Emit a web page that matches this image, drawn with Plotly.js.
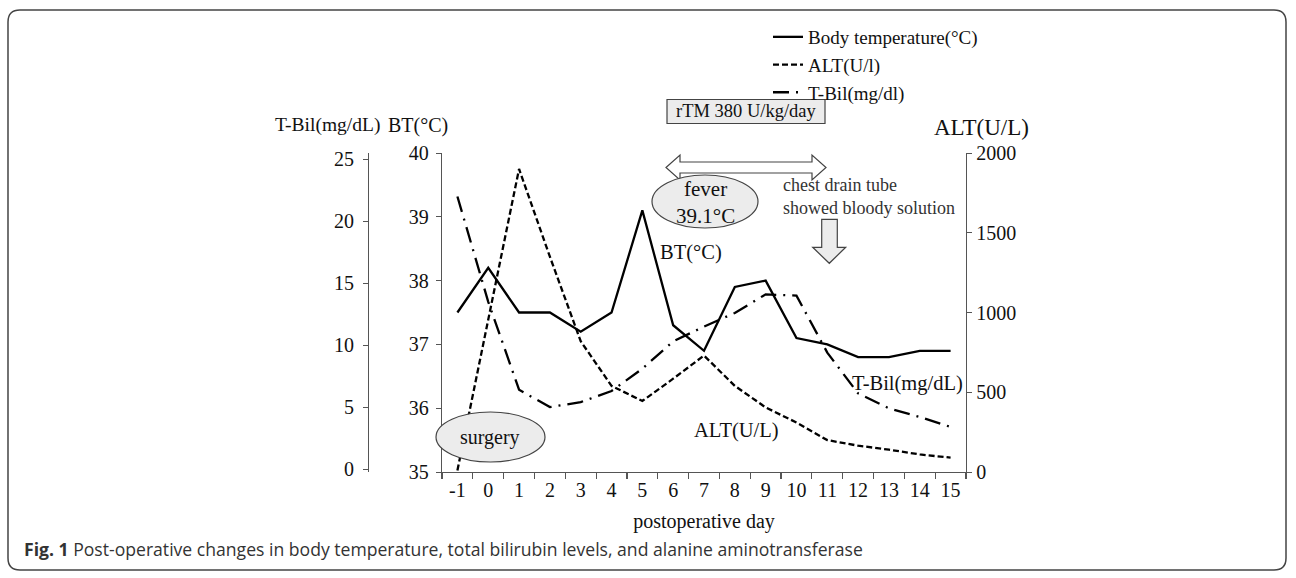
<!DOCTYPE html>
<html>
<head>
<meta charset="utf-8">
<script src="https://cdn.plot.ly/plotly-3.0.1.min.js"></script>
<style>
  html, body { margin: 0; padding: 0; background: #fff; }
  #chart { width: 1296px; height: 578px; }
</style>
</head>
<body>
<div id="chart"></div>
<script>
// ---- data ----
const days = [-1, 0, 1, 2, 3, 4, 5, 6, 7, 8, 9, 10, 11, 12, 13, 14, 15];
const bodyTemp = [37.5, 38.2, 37.5, 37.5, 37.2, 37.5, 39.1, 37.3, 36.9, 37.9, 38.0, 37.1, 37.0, 36.8, 36.8, 36.9, 36.9];
const alt = [10, 960, 1900, 1350, 820, 540, 445, 585, 730, 540, 405, 310, 200, 165, 140, 110, 90];
const tbil = [22.0, 13.5, 6.4, 5.0, 5.4, 6.3, 8.1, 10.3, 11.5, 12.6, 14.1, 14.0, 9.4, 6.1, 4.9, 4.2, 3.4];
const seriesNames = ['Body temperature(°C)', 'ALT(U/l)', 'T-Bil(mg/dl)'];
const btTicks = [35, 36, 37, 38, 39, 40];
const tbilTicks = [0, 5, 10, 15, 20, 25];
const altTicks = [0, 500, 1000, 1500, 2000];

// ---- layout geometry (pixels) ----
const FW = 1296, FH = 578;
const M = { l: 368, r: 330, t: 153, b: 106 };
const PW = FW - M.l - M.r, PH = FH - M.t - M.b;
const px = x => (x - M.l) / PW;
const py = y => (FH - M.b - y) / PH;
function path(s) {
  const toks = s.trim().split(/\s+/);
  let out = [], isX = true;
  for (const t of toks) {
    if (/^[A-Za-z]$/.test(t)) { out.push(t); isX = true; continue; }
    const v = parseFloat(t);
    out.push((isX ? px(v) : py(v)).toFixed(5));
    isX = !isX;
  }
  return out.join(' ').replace(/([A-Z]) /g, '$1').replace(/ (-?[0-9.]+) (-?[0-9.]+)/g, ' $1,$2');
}

const SERIF = 'Liberation Serif, Times New Roman, serif';
const AX = '#555';

const traces = [
  { x: days, y: bodyTemp, name: seriesNames[0], type: 'scatter', mode: 'lines', yaxis: 'y',
    line: { color: '#000', width: 2.3 } },
  { x: days, y: alt, name: seriesNames[1], type: 'scatter', mode: 'lines', yaxis: 'y3',
    line: { color: '#000', width: 2.3, dash: '6px,3px' } },
  { x: days, y: tbil, name: seriesNames[2], type: 'scatter', mode: 'lines', yaxis: 'y2',
    line: { color: '#000', width: 2.3, dash: '16px,7px,2px,7px' } }
];

function txt(text, x, y, size, opts) {
  return Object.assign({ text: text, xref: 'paper', yref: 'paper', x: px(x), y: py(y),
    xanchor: 'center', yanchor: 'middle', showarrow: false,
    font: { family: SERIF, size: size, color: '#111' } }, opts || {});
}

const annotations = [
  txt('T-Bil(mg/dL)', 327, 125, 19.5),
  txt('BT(°C)', 418, 125, 20),
  txt('ALT(U/L)', 981, 127, 23),
  txt('rTM 380 U/kg/day', 746, 111, 18.5),
  txt('fever<br>39.1°C', 705, 202, 21),
  txt('chest drain tube<br>showed bloody solution', 781, 196, 18, { xanchor: 'left', align: 'left', font: { family: SERIF, size: 18, color: '#333' } }),
  txt('BT(°C)', 691, 252, 20.5),
  txt('ALT(U/L)', 736, 430, 20.5),
  txt('T-Bil(mg/dL)', 907, 383, 20.5),
  txt('surgery', 490, 437, 20),
  { text: '<b>Fig. 1</b> Post-operative changes in body temperature, total bilirubin levels, and alanine aminotransferase',
    xref: 'paper', yref: 'paper', x: px(22), y: py(549), xanchor: 'left', yanchor: 'middle', showarrow: false,
    font: { family: 'Open Sans, sans-serif', size: 17.6, color: '#333' } }
];

const FILL = '#ececec', STROKE = '#444';
const shapes = [
  { type: 'path', xref: 'paper', yref: 'paper', layer: 'below',
    path: path('M 20 10 L 1274 10 Q 1286 10 1286 22 L 1286 558 Q 1286 570 1274 570 L 20 570 Q 8 570 8 558 L 8 22 Q 8 10 20 10 Z'),
    line: { color: '#444', width: 1.5 }, fillcolor: 'rgba(0,0,0,0)' },
  { type: 'rect', xref: 'paper', yref: 'paper', layer: 'above',
    x0: px(667), x1: px(825), y0: py(99.5), y1: py(123.5),
    line: { color: STROKE, width: 1.2 }, fillcolor: FILL },
  { type: 'path', xref: 'paper', yref: 'paper', layer: 'above',
    path: path('M 666 167.5 L 680 155 L 680 162 L 812 162 L 812 155 L 826 167.5 L 812 180 L 812 173 L 680 173 L 680 180 Z'),
    line: { color: STROKE, width: 1.2 }, fillcolor: '#fff' },
  { type: 'circle', xref: 'paper', yref: 'paper', layer: 'above',
    x0: px(652), x1: px(758), y0: py(175), y1: py(228),
    line: { color: STROKE, width: 1.2 }, fillcolor: FILL },
  { type: 'path', xref: 'paper', yref: 'paper', layer: 'above',
    path: path('M 821.7 219.3 L 837.3 219.3 L 837.3 247.3 L 845.7 247.3 L 829.3 263.3 L 812.7 247.3 L 821.7 247.3 Z'),
    line: { color: STROKE, width: 1.2 }, fillcolor: FILL },
  { type: 'circle', xref: 'paper', yref: 'paper', layer: 'above',
    x0: px(436), x1: px(545), y0: py(412), y1: py(462),
    line: { color: STROKE, width: 1.2 }, fillcolor: FILL }
];

const tickFont = { family: SERIF, size: 20, color: '#111' };
const layout = {
  width: FW, height: FH,
  margin: M,
  paper_bgcolor: '#fff', plot_bgcolor: 'rgba(0,0,0,0)',
  showlegend: true,
  legend: { x: px(768), y: py(18), xanchor: 'left', yanchor: 'top', bgcolor: 'rgba(0,0,0,0)',
    font: { family: SERIF, size: 19, color: '#111' }, tracegroupgap: 0, itemwidth: 30 },
  xaxis: {
    domain: [px(442), 1], type: 'linear', range: [-1.5, 15.5],
    tickmode: 'array', tickvals: days, ticktext: days.map(String),
    showgrid: false, zeroline: false, showline: true, linecolor: AX, linewidth: 1.2,
    ticks: '', tickfont: tickFont,
    title: { text: 'postoperative day', font: { family: SERIF, size: 20, color: '#111' }, standoff: 13 }
  },
  xaxis2: {
    overlaying: 'x', domain: [px(442), 1], range: [-1.5, 15.5],
    tickmode: 'array', tickvals: days.concat([15]).map((d, i) => i === days.length ? 15.5 : d - 0.5),
    showticklabels: false, ticks: 'outside', ticklen: 6, tickcolor: AX, tickwidth: 1.2,
    showgrid: false, zeroline: false, showline: false, anchor: 'y'
  },
  yaxis: {
    range: [35, 40], tickvals: btTicks, showgrid: false, zeroline: false,
    showline: true, linecolor: AX, linewidth: 1.2, ticks: 'outside', ticklen: 5, tickcolor: AX,
    tickfont: tickFont, anchor: 'x', side: 'left', ticklabelstandoff: 3
  },
  yaxis2: {
    overlaying: 'y', anchor: 'free', position: 0, side: 'left',
    range: [-0.24, 25.51], tickvals: tbilTicks, showgrid: false, zeroline: false,
    showline: true, linecolor: AX, linewidth: 1.2, ticks: 'outside', ticklen: 5, tickcolor: AX,
    tickfont: tickFont, ticklabelstandoff: 5
  },
  yaxis3: {
    overlaying: 'y', anchor: 'x', side: 'right',
    range: [0, 2000], tickvals: altTicks, showgrid: false, zeroline: false,
    showline: true, linecolor: AX, linewidth: 1.2, ticks: 'outside', ticklen: 5, tickcolor: AX,
    tickfont: tickFont
  },
  annotations: annotations,
  shapes: shapes
};

traces.push({ x: [days[0]], y: [bodyTemp[0]], xaxis: 'x2', yaxis: 'y', mode: 'markers',
  marker: { opacity: 0 }, showlegend: false, hoverinfo: 'skip' });

Plotly.newPlot('chart', traces, layout, { displayModeBar: false, staticPlot: true });
</script>
</body>
</html>
